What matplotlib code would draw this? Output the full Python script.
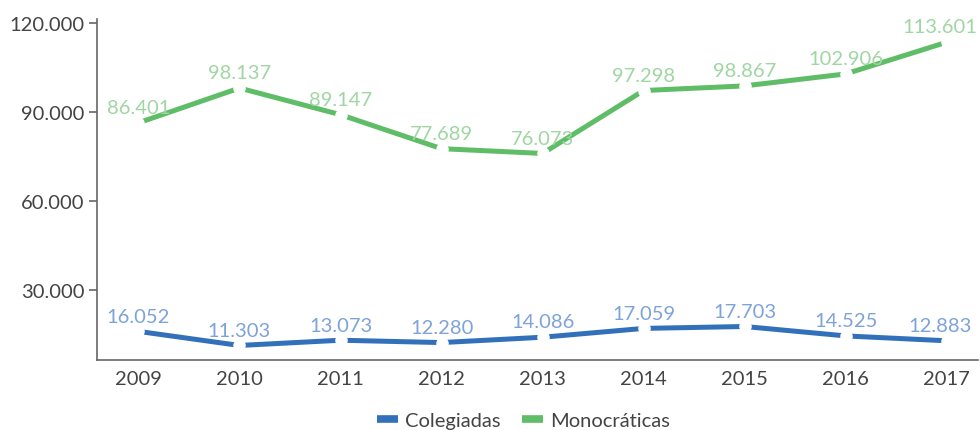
import matplotlib.pyplot as plt
from matplotlib.lines import Line2D
from matplotlib.ticker import FuncFormatter

anos = [2009, 2010, 2011, 2012, 2013, 2014, 2015, 2016, 2017]
colegiadas = [16052, 11303, 13073, 12280, 14086, 17059, 17703, 14525, 12883]
monocraticas = [86401, 98137, 89147, 77689, 76073, 97298, 98867, 102906, 113601]
series_nombres = ['Colegiadas', 'Monocráticas']
yticks = [30000, 60000, 90000, 120000]

plt.rcParams['font.family'] = ['Lato', 'DejaVu Sans']

color_texto = '#444444'
colores_linea = ['#3271b9', '#5ebd66']
colores_etiqueta = ['#7ea3d8', '#9fd6a2']


def miles(v, pos=None):
    return f'{int(v):,}'.replace(',', '.')


fig = plt.figure(figsize=(9.8, 4.31), dpi=100)
ax = fig.add_axes([0.099, 0.1624, 0.899, 0.791])

for valores, c_linea, c_etq in zip([colegiadas, monocraticas], colores_linea, colores_etiqueta):
    ax.plot(anos, valores, color=c_linea, linewidth=3.6, solid_capstyle='butt',
            marker='o', markersize=8, markerfacecolor='white', markeredgecolor='white', zorder=2)
    for i, (x, y) in enumerate(zip(anos, valores)):
        dx = -5 if i == len(anos) - 1 else 0
        ax.annotate(miles(y), (x, y), xytext=(dx, 7), textcoords='offset points',
                    ha='center', va='baseline', fontsize=14.5, color=c_etq, zorder=3)

ax.set_xlim(2008.59, 2017.31)
ax.set_ylim(6400, 121400)
ax.set_xticks(anos)
ax.set_xticklabels([str(a) for a in anos])
ax.set_yticks(yticks)
ax.yaxis.set_major_formatter(FuncFormatter(miles))

for lado in ['top', 'right']:
    ax.spines[lado].set_visible(False)
for lado in ['left', 'bottom']:
    ax.spines[lado].set_color('#666666')
    ax.spines[lado].set_linewidth(1.2)

ax.tick_params(axis='x', length=0, pad=7, labelsize=14.5, labelcolor=color_texto)
ax.tick_params(axis='y', length=6, width=1.2, color='#666666', pad=3,
               labelsize=14.5, labelcolor=color_texto)

handles = [Line2D([0], [0], color=c, linewidth=5.5, solid_capstyle='butt') for c in colores_linea]
leg = fig.legend(handles, series_nombres, loc='lower center', bbox_to_anchor=(0.534, -0.04),
                 ncol=2, frameon=False, fontsize=14.5, handlelength=1.05,
                 handletextpad=0.35, columnspacing=1.05)
for t in leg.get_texts():
    t.set_color(color_texto)

fig.savefig('out.png', dpi=100)
